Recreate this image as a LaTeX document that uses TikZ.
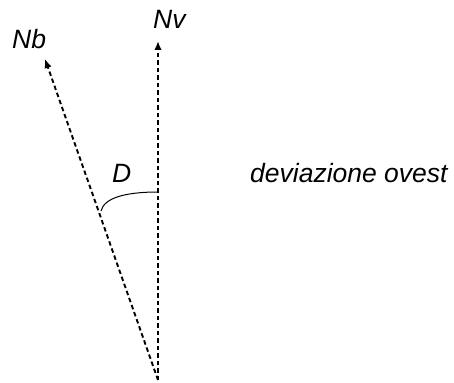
\documentclass[tikz,border=0pt]{standalone}
\usepackage{fontspec}
\setmainfont{Liberation Sans}
\usetikzlibrary{arrows.meta}
\begin{document}
\begin{tikzpicture}[x=1pt,y=-1pt,
  vec/.style={line width=1.9pt,dash pattern=on 4.5pt off 3pt,-{Latex[length=9pt,width=7.5pt]}},
  lbl/.style={anchor=base west,inner sep=0pt,font=\fontsize{26.5}{31}\selectfont\itshape}]
\useasboundingbox (0,0) rectangle (454,382);
\coordinate (O) at (158,380);
\coordinate (V) at (158,41);
\coordinate (B) at (45,59);
\coordinate (A1) at (158,192);
\coordinate (A2) at (101,211);
\draw[vec] (O) -- (V);
\draw[vec] (O) -- (B);
\draw[line width=1pt] (A1) .. controls (125,192) and (104,198) .. (A2);
\node[lbl] (nv) at (153,29) {Nv};
\node[lbl] (nb) at (12,49) {Nb};
\node[lbl] (d) at (112,182) {D};
\node[lbl] (dev) at (250,182) {deviazione ovest};
\end{tikzpicture}
\end{document}
